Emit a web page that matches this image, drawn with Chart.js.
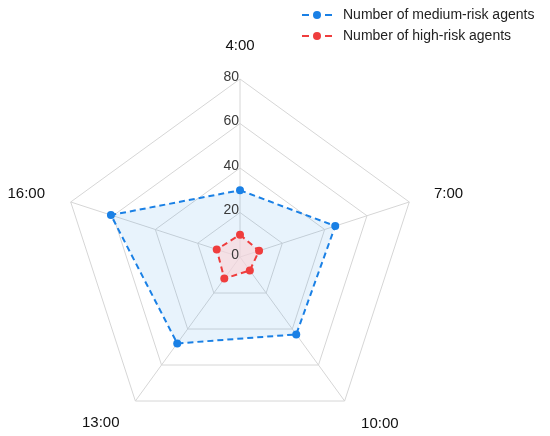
<!DOCTYPE html>
<html>
<head>
<meta charset="utf-8">
<script src="https://cdn.jsdelivr.net/npm/chart.js@4/dist/chart.umd.min.js"></script>
<style>
  html, body { margin: 0; padding: 0; background: #fff; }
  #wrap { width: 550px; height: 436px; }
</style>
</head>
<body>
<div id="wrap"><canvas id="radarChart"></canvas></div>
<script>
// data
var hours = ["4:00", "7:00", "10:00", "13:00", "16:00"];
var mediumRisk = [30, 45, 43, 48, 61];
var highRisk = [10, 9, 7.5, 12, 11];
var tickValues = [0, 20, 40, 60, 80];

var blue = "#1a80e5";
var red = "#ef3d3d";
var fontFamily = "'Liberation Sans', Arial, Helvetica, sans-serif";

Chart.defaults.font.family = fontFamily;

// tick numbers sit just left of the vertical axis
var tickLabels = {
  id: "tickLabels",
  afterDatasetsDraw: function (chart) {
    var s = chart.scales.r;
    var ctx = chart.ctx;
    ctx.save();
    ctx.font = "14px " + fontFamily;
    ctx.fillStyle = "#3a3a3a";
    ctx.textAlign = "right";
    ctx.textBaseline = "middle";
    tickValues.forEach(function (v) {
      var d = s.getDistanceFromCenterForValue(v);
      ctx.fillText(String(v), s.xCenter - 1, s.yCenter - d - 2);
    });
    ctx.restore();
  },
};

// hour labels placed a bit outside each spoke
var hourLabels = {
  id: "hourLabels",
  afterDraw: function (chart) {
    var s = chart.scales.r;
    var ctx = chart.ctx;
    var gaps = [33, 26, 28, 27, 27];
    ctx.save();
    ctx.font = "15px " + fontFamily;
    ctx.fillStyle = "#111";
    ctx.textBaseline = "middle";
    hours.forEach(function (h, i) {
      var p = s.getPointPosition(i, s.drawingArea + gaps[i]);
      var dx = p.x - s.xCenter;
      ctx.textAlign = Math.abs(dx) < 2 ? "center" : dx > 0 ? "left" : "right";
      ctx.fillText(h, p.x, p.y);
    });
    ctx.restore();
  },
};

// legend stacked in the top right corner, dashed line with a dot
var cornerLegend = {
  id: "cornerLegend",
  afterDraw: function (chart) {
    var ctx = chart.ctx;
    var rows = [15, 36];
    ctx.save();
    chart.data.datasets.forEach(function (ds, i) {
      var y = rows[i];
      ctx.strokeStyle = ds.borderColor;
      ctx.fillStyle = ds.borderColor;
      ctx.lineWidth = 2;
      ctx.beginPath();
      ctx.moveTo(302, y);
      ctx.lineTo(309, y);
      ctx.moveTo(325, y);
      ctx.lineTo(332, y);
      ctx.stroke();
      ctx.beginPath();
      ctx.arc(317, y, 4, 0, Math.PI * 2);
      ctx.fill();
      ctx.font = "14px " + fontFamily;
      ctx.fillStyle = "#222";
      ctx.textAlign = "left";
      ctx.textBaseline = "middle";
      ctx.fillText(ds.label, 343, y);
    });
    ctx.restore();
  },
};

var ctx = document.getElementById("radarChart").getContext("2d");
var chart = new Chart(ctx, {
  type: "radar",
  data: {
    labels: hours,
    datasets: [
      {
        label: "Number of medium-risk agents",
        data: mediumRisk,
        borderColor: blue,
        backgroundColor: "rgba(30,136,229,0.1)",
        borderWidth: 2,
        borderDash: [6, 4],
        pointRadius: 4,
        pointBorderWidth: 0,
        pointBackgroundColor: blue,
        fill: true,
        order: 1,
      },
      {
        label: "Number of high-risk agents",
        data: highRisk,
        borderColor: red,
        backgroundColor: "rgba(250,215,220,0.7)",
        borderWidth: 2,
        borderDash: [6, 4],
        pointRadius: 4,
        pointBorderWidth: 0,
        pointBackgroundColor: red,
        fill: true,
        order: 0,
      },
    ],
  },
  options: {
    responsive: true,
    maintainAspectRatio: false,
    animation: false,
    layout: {
      padding: { top: 79, bottom: 0, left: 62, right: 132 },
    },
    plugins: {
      legend: { display: false },
      tooltip: { enabled: false },
    },
    elements: {
      line: { tension: 0 },
    },
    scales: {
      r: {
        min: 0,
        max: 80,
        ticks: { stepSize: 20, display: false },
        grid: { color: "#d6d6d6", lineWidth: 1 },
        angleLines: { color: "#d6d6d6", lineWidth: 1 },
        pointLabels: { display: false },
      },
    },
  },
  plugins: [tickLabels, hourLabels, cornerLegend],
});
</script>
</body>
</html>
